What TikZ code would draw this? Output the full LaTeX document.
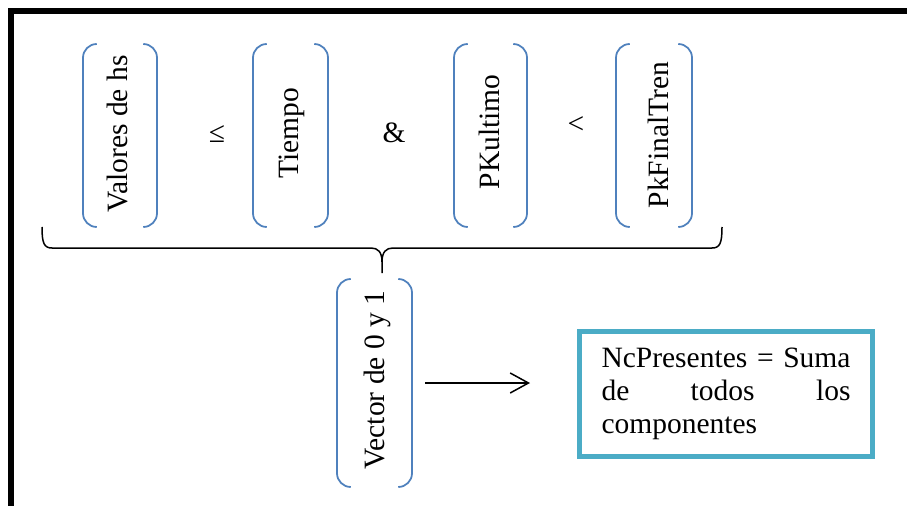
\documentclass[tikz,border=0pt]{standalone}
\usepackage{fontspec}
\setmainfont{Liberation Serif}
\usetikzlibrary{arrows.meta}
\definecolor{brkblue}{RGB}{79,129,189}
\definecolor{boxteal}{RGB}{75,172,198}
\tikzset{
  slot/.style={draw=none, inner sep=0pt, outer sep=0pt, minimum width=#1, minimum height=73.2pt},
  vtext/.style={rotate=90, anchor=mid, inner sep=0pt, font=\fontsize{11.8}{13.2}\selectfont},
  sym/.style={inner sep=0pt, font=\fontsize{11.8}{13.2}\selectfont},
  brk/.style={draw=brkblue, line width=0.7pt, rounded corners=5.5pt},
  result/.style={draw=boxteal, line width=2pt, minimum width=117.2pt, minimum height=50pt,
    text width=99.6pt, align=left, inner sep=0pt, font=\fontsize{11.8}{13.2}\selectfont},
  flow/.style={draw, line width=0.6pt, -{Straight Barb[length=7.3pt,width=8pt]}},
  brace/.style={draw, line width=0.6pt},
  border/.style={draw, line width=2.1pt, line join=miter}
}
\newcommand\brackets[1]{%
  \draw[brk] ([xshift=5.5pt]#1.north west) -- (#1.north west) -- (#1.south west) -- ([xshift=5.5pt]#1.south west);
  \draw[brk] ([xshift=-5.5pt]#1.north east) -- (#1.north east) -- (#1.south east) -- ([xshift=-5.5pt]#1.south east);}
\begin{document}
\begin{tikzpicture}[x=0.4pt, y=-0.4pt]
\useasboundingbox (0,0) rectangle (907,506);
\fill[white] (0,0) rectangle (907,506);
% border
\draw[border] (11,506) -- (11,11) -- (907,11);

% slots (bracketed groups)
\node[slot=29.6pt] (s1) at (120,135.5) {};
\node[slot=30pt] (s2) at (290.5,135.5) {};
\node[slot=29.2pt] (s3) at (490.5,135.5) {};
\node[slot=30.4pt] (s4) at (654,135.5) {};
\node[slot=30pt, minimum height=83.2pt] (s5) at (374.5,383) {};
\brackets{s1}
\brackets{s2}
\brackets{s3}
\brackets{s4}
\brackets{s5}

% rotated texts
\node[vtext] (t1) at (121.4,134) {Valores de hs};
\node[vtext] (t2) at (292.4,133) {Tiempo};
\node[vtext] (t3) at (493.4,132) {PKultimo};
\node[vtext] (t4) at (662.4,135) {PkFinalTren};
\node[vtext] (t5) at (378.4,380) {Vector de 0 y 1};

% operators
\node[sym] (o1) at (217,134) {≤};
\node[sym] (o2) at (394,133) {\&};
\node[sym] (o3) at (576,125) {<};

% brace
\draw[brace] (42,227) .. controls (42,243) and (44,248) .. (52,248) -- (371,248)
  .. controls (378,248) and (382,252) .. (382,262) -- (382,273);
\draw[brace] (382,262) .. controls (382,252) and (386,248) .. (393,248) -- (712,248)
  .. controls (720,248) and (722,243) .. (722,227);

% result box
\node[result] (res) at (726,394) {NcPresentes\hfill=\hfill Suma\\de\hfill todos\hfill los\\componentes};

% arrow
\draw[flow, shorten <=5.2pt, shorten >=18.8pt] (s5.east) -- (s5.east -| res.west);
\end{tikzpicture}
\end{document}
